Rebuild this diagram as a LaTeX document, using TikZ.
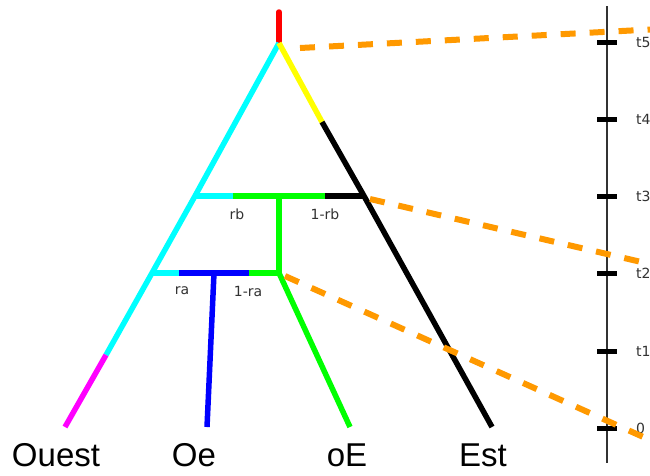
\documentclass[tikz,border=0pt]{standalone}
\usepackage{fontspec}
\setmainfont{Liberation Sans}
\newfontfamily\dejavu{DejaVu Sans}
\definecolor{orng}{RGB}{255,153,0}
\definecolor{axisgray}{RGB}{50,50,50}
\definecolor{ccyan}{RGB}{0,255,255}
\definecolor{cmag}{RGB}{255,0,255}
\definecolor{cgreen}{RGB}{0,255,0}
\definecolor{cblue}{RGB}{0,0,255}
\definecolor{cyel}{RGB}{255,255,0}
\definecolor{cred}{RGB}{255,0,0}
\begin{document}
\begin{tikzpicture}[x=1pt,y=-1pt,
  br/.style={line width=5.5pt, line cap=butt},
  orngline/.style={draw=orng, line width=6pt, dash pattern=on 15pt off 14pt},
  leaf/.style={font=\fontsize{33}{36}\selectfont, inner sep=0pt},
  small/.style={font=\dejavu\fontsize{14}{16}\selectfont, text=axisgray, inner sep=0pt},
  tickmark/.style={line width=5pt, draw=black},
]
\useasboundingbox (0,0) rectangle (650,475);
\fill[white] (0,0) rectangle (650,475);

% branch coordinates
\coordinate (top) at (279,12);
\coordinate (root) at (279,43);
\coordinate (ye) at (322,122);
\coordinate (B) at (364,196);
\coordinate (E) at (492,427);
\coordinate (L3) at (195,196);
\coordinate (rb1) at (233,196);
\coordinate (rb2) at (325,196);
\coordinate (m3) at (279,196);
\coordinate (m2) at (279,273);
\coordinate (L2) at (152,273);
\coordinate (ra1) at (179,273);
\coordinate (ra2) at (249,273);
\coordinate (bt) at (214,273);
\coordinate (bb) at (207,427);
\coordinate (oe) at (350,427);
\coordinate (mt) at (106,355);
\coordinate (W) at (65,427);

% tree
\draw[br, cred, line cap=round] (top) -- (root);
\draw[br, ccyan] (root) -- (L3) -- (L2) -- (mt);
\draw[br, cmag] (mt) -- (W);
\draw[br, cyel] (root) -- (ye);
\draw[br, black] (ye) -- (B) -- (E);
\draw[br, ccyan] (L3) -- (rb1);
\draw[br, cgreen] (rb1) -- (rb2);
\draw[br, black] (rb2) -- (B);
\draw[br, cgreen] (m3) -- (m2);
\draw[br, ccyan] (L2) -- (ra1);
\draw[br, cblue] (ra1) -- (ra2);
\draw[br, cgreen] (ra2) -- (m2);
\draw[br, cblue] (bt) -- (bb);
\draw[br, cgreen] (m2) -- (oe);

% labels
\node[small] (lrb) at (237,214) {rb};
\node[small] (l1rb) at (325,214) {1-rb};
\node[small] (lra) at (182,291) {ra};
\node[small] (l1ra) at (248,291) {1-ra};

\node[leaf] (ouest) at (56,455) {Ouest};
\node[leaf] (Oe) at (194,455) {Oe};
\node[leaf] (oE) at (347,455) {oE};
\node[leaf] (est) at (483,455) {Est};

% axis
\coordinate (ax1) at (607,6);
\coordinate (ax2) at (607,463);
\draw[axisgray, line width=1.5pt] (ax1) -- (ax2);
\foreach \y/\t [count=\i] in {42/t5,119/t4,196/t3,273/t2,351/t1,428/0}{
  \coordinate (tl\i) at (597,\y);
  \coordinate (tr\i) at (617,\y);
  \draw[tickmark] (tl\i) -- (tr\i);
  \node[small, anchor=west] (tlab\i) at (636,\y) {\t};
}

% orange dashed lines
\coordinate (o1s) at (300,48);
\coordinate (o1e) at (650,29.5);
\coordinate (o2s) at (370,199);
\coordinate (o2e) at (650,264);
\coordinate (o3s) at (285,276);
\coordinate (o3e) at (650,440);
\begin{scope}
\clip (0,0) rectangle (650,475);
\draw[orngline] (o1s) -- (o1e);
\draw[orngline] (o2s) -- (o2e);
\draw[orngline] (o3s) -- (o3e);
\end{scope}
\end{tikzpicture}
\end{document}
